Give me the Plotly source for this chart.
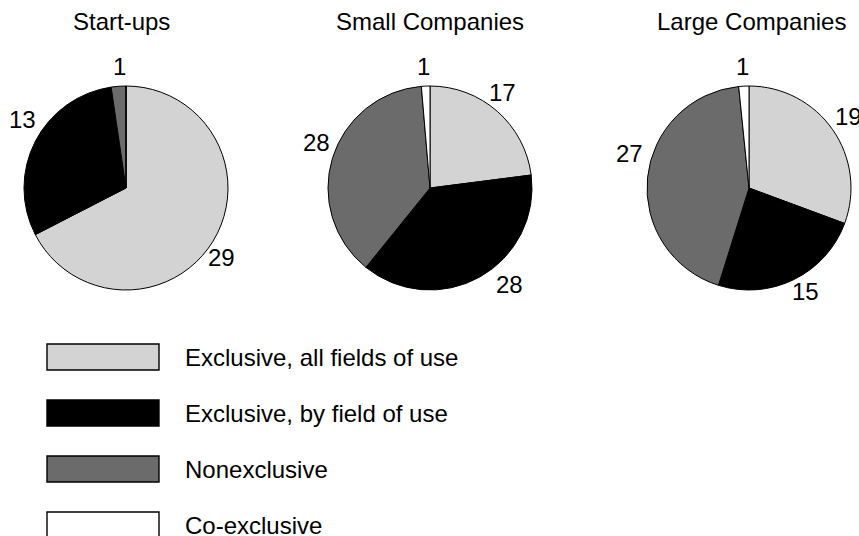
import math
import plotly.graph_objects as go

W, H = 859, 536

# Data
categories = ["Exclusive, all fields of use", "Exclusive, by field of use",
              "Nonexclusive", "Co-exclusive"]
groups = ["Start-ups", "Small Companies", "Large Companies"]
startups = [29, 13, 1, 0]
small_companies = [17, 28, 28, 1]
large_companies = [19, 15, 27, 1]
series = [startups, small_companies, large_companies]

colors = ["#d3d3d3", "#000000", "#6b6b6b", "#ffffff"]
FONT = "Liberation Sans, Arial, sans-serif"

# Layout (pixel geometry)
centers = [(126, 188), (430, 188), (749, 188)]
title_x = [121.5, 430, 751]
R = 102
label_r = R + 20

# Hand-placed nudges (px) for value labels, keyed by (pie, slice)
label_offsets = {
    (0, 0): (-9, 6), (0, 1): (4.5, -12.7), (0, 2): (2, 0),
    (1, 0): (-8.6, -4), (1, 1): (20.5, -10.5), (1, 2): (2.7, -9.8), (1, 3): (-1.8, 0),
    (2, 0): (-1, -2), (2, 1): (3, -6), (2, 2): (1.5, -21.7), (2, 3): (0, 0),
}


def px(x):
    return x / W


def py(y):
    return 1 - y / H


fig = go.Figure()
annotations = []

for gi, (name, vals, (cx, cy)) in enumerate(zip(groups, series, centers)):
    fig.add_trace(go.Pie(
        values=vals,
        labels=categories,
        sort=False,
        direction="clockwise",
        rotation=0,
        textinfo="none",
        hoverinfo="label+value",
        marker=dict(colors=colors, line=dict(color="#000000", width=1)),
        domain=dict(x=[px(cx - R), px(cx + R)], y=[py(cy + R), py(cy - R)]),
        showlegend=False,
    ))
    # group title
    annotations.append(dict(
        x=px(title_x[gi]), y=py(21), xref="paper", yref="paper",
        text=name, showarrow=False, xanchor="center", yanchor="middle",
        font=dict(family=FONT, size=24, color="#000000"),
    ))
    # slice value labels at mid-angle outside the pie
    total = sum(vals)
    cum = 0
    for si, v in enumerate(vals):
        if v > 0:
            theta = 2 * math.pi * (cum + v / 2) / total
            dx, dy = label_offsets.get((gi, si), (0, 0))
            lx = cx + label_r * math.sin(theta) + dx
            ly = cy - label_r * math.cos(theta) + dy
            annotations.append(dict(
                x=px(lx), y=py(ly), xref="paper", yref="paper",
                text=str(v), showarrow=False, xanchor="center", yanchor="middle",
                font=dict(family=FONT, size=24, color="#000000"),
            ))
        cum += v

# Legend: wide swatches with labels
shapes = []
legend_rows = [357, 413, 469, 525]
for cat, col, ry in zip(categories, colors, legend_rows):
    shapes.append(dict(
        type="rect", xref="paper", yref="paper",
        x0=px(47), x1=px(159), y0=py(ry + 13), y1=py(ry - 13),
        fillcolor=col, line=dict(color="#000000", width=1.4),
    ))
    annotations.append(dict(
        x=px(183), y=py(ry), xref="paper", yref="paper",
        text=cat, showarrow=False, xanchor="left", yanchor="middle",
        font=dict(family=FONT, size=24, color="#000000"),
    ))

fig.update_layout(
    width=W, height=H,
    margin=dict(l=0, r=0, t=0, b=0),
    paper_bgcolor="#ffffff",
    plot_bgcolor="#ffffff",
    annotations=annotations,
    shapes=shapes,
)

fig.write_html("out.html")
